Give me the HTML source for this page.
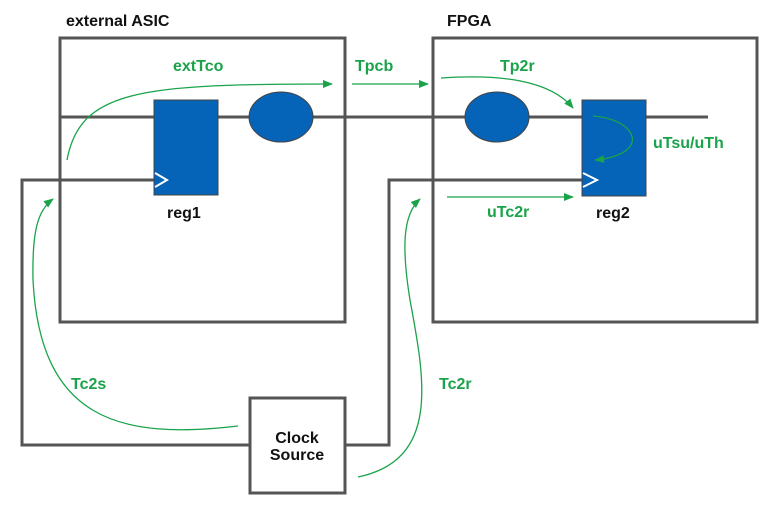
<!DOCTYPE html>
<html><head><style>
html,body{margin:0;padding:0;background:#fff}
svg text{font-family:"Liberation Sans",Arial,sans-serif;font-weight:bold}
</style></head><body>
<svg width="760" height="505" viewBox="0 0 760 505" xmlns="http://www.w3.org/2000/svg">
<defs>
<marker id="a" markerWidth="10" markerHeight="8" refX="9" refY="4" orient="auto" markerUnits="userSpaceOnUse">
<path d="M0,0 L10,4 L0,8 z" fill="#1aa34a"/></marker>
</defs>
<g fill="none" stroke="#555" stroke-width="3">
<rect x="60" y="38" width="285" height="284"/>
<rect x="433" y="38" width="324" height="284"/>
<line x1="60" y1="117" x2="708" y2="117"/>
<polyline points="250,445 22,445 22,180 154,180"/>
<polyline points="345,445 389,445 389,180 582,180"/>
<rect x="250" y="398" width="95" height="95" fill="#fff"/>
</g>
<rect x="154" y="100" width="64" height="95" fill="#0563b8" stroke="#444" stroke-width="1"/>
<rect x="582" y="100" width="64" height="96" fill="#0563b8" stroke="#444" stroke-width="1"/>
<ellipse cx="281" cy="117" rx="32" ry="25" fill="#0563b8" stroke="#444" stroke-width="1"/>
<ellipse cx="497" cy="117" rx="32" ry="25" fill="#0563b8" stroke="#444" stroke-width="1"/>
<polyline points="155,173 167,180 155,187" fill="none" stroke="#fff" stroke-width="2"/>
<polyline points="583,173 597,180 583,187" fill="none" stroke="#fff" stroke-width="2"/>
<g fill="none" stroke="#1aa34a" stroke-width="1.3">
<path d="M67,160 C80,90 140,84 332,84" marker-end="url(#a)"/>
<line x1="352" y1="84" x2="428" y2="84" marker-end="url(#a)"/>
<path d="M441,78 C500,74 550,80 573,108" marker-end="url(#a)"/>
<path d="M593,116 C640,120 650,155 595,160" marker-end="url(#a)"/>
<line x1="447" y1="197" x2="573" y2="197" marker-end="url(#a)"/>
<path d="M238,426 C120,440 40,420 33,280 C32,230 38,210 53,199" marker-end="url(#a)"/>
<path d="M358,477 C440,460 425,380 410,300 C402,250 402,215 420,199" marker-end="url(#a)"/>
</g>
<g font-size="16" fill="#1aa34a">
<text x="173" y="71">extTco</text>
<text x="355" y="71">Tpcb</text>
<text x="500" y="71">Tp2r</text>
<text x="653" y="148">uTsu/uTh</text>
<text x="487" y="217">uTc2r</text>
<text x="71" y="389">Tc2s</text>
<text x="439" y="389">Tc2r</text>
</g>
<g font-size="16" fill="#111">
<text x="66" y="26">external ASIC</text>
<text x="447" y="26">FPGA</text>
<text x="167" y="218">reg1</text>
<text x="596" y="218">reg2</text>
<text x="297" y="443" text-anchor="middle">Clock</text>
<text x="297" y="460" text-anchor="middle">Source</text>
</g>
</svg>
</body></html>
